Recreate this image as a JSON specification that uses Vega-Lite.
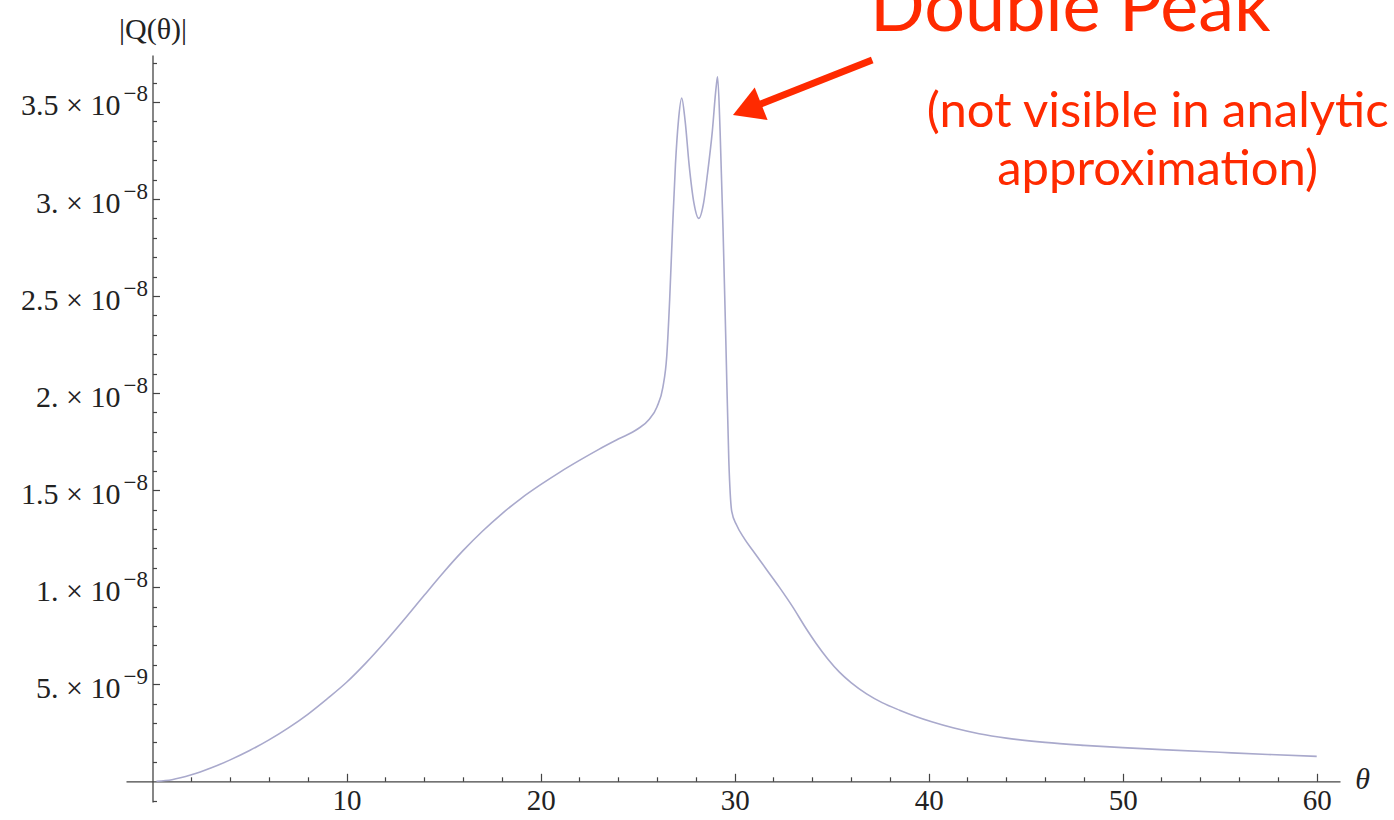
{
  "$schema": "https://vega.github.io/schema/vega-lite/v6.json",
  "width": 1214,
  "height": 747,
  "autosize": "none",
  "padding": {"left": 126, "top": 55, "right": 54, "bottom": 18},
  "background": "white",
  "config": {"view": {"stroke": null}},
  "datasets": {
    "curve": [
      {"theta": 0.2, "Q": 0},
      {"theta": 1, "Q": 8e-11},
      {"theta": 2, "Q": 3.3e-10},
      {"theta": 3, "Q": 6.8e-10},
      {"theta": 4, "Q": 1.1e-9},
      {"theta": 5, "Q": 1.58e-9},
      {"theta": 6, "Q": 2.13e-9},
      {"theta": 7, "Q": 2.75e-9},
      {"theta": 8, "Q": 3.45e-9},
      {"theta": 9, "Q": 4.25e-9},
      {"theta": 10, "Q": 5.1e-9},
      {"theta": 11, "Q": 6.1e-9},
      {"theta": 12, "Q": 7.2e-9},
      {"theta": 13, "Q": 8.37e-9},
      {"theta": 14, "Q": 9.58e-9},
      {"theta": 15, "Q": 1.077e-8},
      {"theta": 16, "Q": 1.188e-8},
      {"theta": 17, "Q": 1.288e-8},
      {"theta": 18, "Q": 1.378e-8},
      {"theta": 19, "Q": 1.458e-8},
      {"theta": 20, "Q": 1.528e-8},
      {"theta": 21, "Q": 1.593e-8},
      {"theta": 22, "Q": 1.653e-8},
      {"theta": 23, "Q": 1.71e-8},
      {"theta": 24, "Q": 1.763e-8},
      {"theta": 25, "Q": 1.815e-8},
      {"theta": 25.6, "Q": 1.865e-8},
      {"theta": 26.0, "Q": 1.93e-8},
      {"theta": 26.3, "Q": 2.03e-8},
      {"theta": 26.5, "Q": 2.19e-8},
      {"theta": 26.65, "Q": 2.48e-8},
      {"theta": 26.8, "Q": 2.85e-8},
      {"theta": 26.95, "Q": 3.18e-8},
      {"theta": 27.1, "Q": 3.4e-8},
      {"theta": 27.27, "Q": 3.52e-8},
      {"theta": 27.45, "Q": 3.4e-8},
      {"theta": 27.65, "Q": 3.18e-8},
      {"theta": 27.9, "Q": 2.98e-8},
      {"theta": 28.15, "Q": 2.9e-8},
      {"theta": 28.4, "Q": 2.98e-8},
      {"theta": 28.6, "Q": 3.13e-8},
      {"theta": 28.85, "Q": 3.35e-8},
      {"theta": 29.05, "Q": 3.58e-8},
      {"theta": 29.12, "Q": 3.63e-8},
      {"theta": 29.25, "Q": 3.35e-8},
      {"theta": 29.4, "Q": 2.85e-8},
      {"theta": 29.55, "Q": 2.25e-8},
      {"theta": 29.7, "Q": 1.65e-8},
      {"theta": 29.85, "Q": 1.39e-8},
      {"theta": 30.1, "Q": 1.32e-8},
      {"theta": 30.5, "Q": 1.25e-8},
      {"theta": 31, "Q": 1.18e-8},
      {"theta": 31.65, "Q": 1.09e-8},
      {"theta": 32.3, "Q": 1.0e-8},
      {"theta": 33, "Q": 8.97e-9},
      {"theta": 33.6, "Q": 8.0e-9},
      {"theta": 34.2, "Q": 7.1e-9},
      {"theta": 34.8, "Q": 6.3e-9},
      {"theta": 35.4, "Q": 5.62e-9},
      {"theta": 36, "Q": 5.08e-9},
      {"theta": 36.8, "Q": 4.5e-9},
      {"theta": 37.6, "Q": 4.05e-9},
      {"theta": 38.5, "Q": 3.66e-9},
      {"theta": 39.3, "Q": 3.35e-9},
      {"theta": 40.2, "Q": 3.05e-9},
      {"theta": 41.3, "Q": 2.74e-9},
      {"theta": 42.6, "Q": 2.45e-9},
      {"theta": 44, "Q": 2.22e-9},
      {"theta": 46, "Q": 2.0e-9},
      {"theta": 48, "Q": 1.85e-9},
      {"theta": 50, "Q": 1.73e-9},
      {"theta": 52, "Q": 1.63e-9},
      {"theta": 55, "Q": 1.49e-9},
      {"theta": 57.5, "Q": 1.38e-9},
      {"theta": 60, "Q": 1.28e-9}
    ]
  },
  "layer": [
    {
      "data": {"name": "curve"},
      "mark": {"type": "line", "color": "#a9a9cc", "strokeWidth": 1.6, "interpolate": "monotone", "clip": false},
      "encoding": {
        "x": {
          "field": "theta", "type": "quantitative",
          "scale": {"domain": [-1.37, 61.2], "nice": false, "zero": false},
          "axis": {
            "orient": "bottom", "offset": -20.7, "values": [10, 20, 30, 40, 50, 60],
            "grid": false, "tickSize": -8, "tickColor": "#444444", "tickWidth": 1.2,
            "domainColor": "#444444", "domainWidth": 1.3,
            "labelFont": "Liberation Serif", "labelFontSize": 29, "labelColor": "#222222",
            "labelPadding": 13, "labelFlush": false, "labelOverlap": false,
            "title": "θ", "titleFont": "Liberation Serif", "titleFontStyle": "italic", "titleFontWeight": "normal",
            "titleFontSize": 30, "titleColor": "#222222", "titleX": 1236, "titleY": -2,
            "titleAlign": "center", "titleBaseline": "middle", "titleAngle": 0
          }
        },
        "y": {
          "field": "Q", "type": "quantitative",
          "scale": {"domain": [-1.07e-9, 3.742e-8], "nice": false, "zero": false},
          "axis": {
            "orient": "left", "offset": -26.5,
            "values": [5e-9, 1e-8, 1.5e-8, 2e-8, 2.5e-8, 3e-8, 3.5e-8],
            "labelExpr": "(datum.value < 9e-9 ? '5.' : (round(datum.value*1e9) % 10 == 0 ? format(round(datum.value*1e8), 'd') + '.' : format(datum.value*1e8, '.1f'))) + ' × 10'",
            "grid": false, "tickSize": -7, "tickColor": "#444444", "tickWidth": 1.2,
            "domainColor": "#444444", "domainWidth": 1.3,
            "labelFont": "Liberation Serif", "labelFontSize": 30, "labelColor": "#222222",
            "labelPadding": 39.5, "labelOffset": 4, "labelFlush": false, "labelOverlap": false,
            "title": "|Q(θ)|", "titleFont": "Liberation Serif", "titleFontWeight": "normal",
            "titleFontSize": 30, "titleColor": "#222222", "titleAngle": 0,
            "titleX": 0, "titleY": -17, "titleAlign": "center", "titleBaseline": "alphabetic"
          }
        }
      }
    },
    {
      "data": {"values": [{"label": "arrow"}]},
      "mark": {"type": "rule", "color": "#ff2a00", "strokeWidth": 7, "strokeCap": "butt"},
      "encoding": {
        "x": {
          "datum": 37.09, "type": "quantitative",
          "axis": {
            "orient": "bottom", "offset": -20.7,
            "values": [2, 4, 6, 8, 12, 14, 16, 18, 22, 24, 26, 28, 32, 34, 36, 38, 42, 44, 46, 48, 52, 54, 56, 58],
            "grid": false, "tickSize": -4.5, "tickColor": "#444444", "tickWidth": 1.2,
            "domain": false, "labels": false, "title": null
          }
        },
        "y": {
          "datum": 3.716e-8, "type": "quantitative",
          "axis": {
            "orient": "left", "offset": -26.5,
            "values": [-1e-9, 1e-9, 2e-9, 3e-9, 4e-9, 6e-9, 7e-9, 8e-9, 9e-9, 1.1e-8, 1.2e-8, 1.3e-8, 1.4e-8, 1.6e-8, 1.7e-8, 1.8e-8, 1.9e-8, 2.1e-8, 2.2e-8, 2.3e-8, 2.4e-8, 2.6e-8, 2.7e-8, 2.8e-8, 2.9e-8, 3.1e-8, 3.2e-8, 3.3e-8, 3.4e-8, 3.6e-8, 3.7e-8],
            "grid": false, "tickSize": -4, "tickColor": "#444444", "tickWidth": 1.2,
            "domain": false, "labels": false, "title": null
          }
        },
        "x2": {"datum": 30.64},
        "y2": {"datum": 3.462e-8}
      }
    },
    {
      "data": {"values": [{"label": "arrowhead"}]},
      "mark": {"type": "point", "shape": "triangle-up", "filled": true, "color": "#ff2a00", "opacity": 1, "size": 1225, "angle": 248.4},
      "encoding": {
        "x": {"datum": 30.64, "type": "quantitative", "axis": null},
        "y": {
          "datum": 3.462e-8, "type": "quantitative",
          "axis": {
            "orient": "left", "offset": -26.5,
            "values": [5e-9, 1e-8, 1.5e-8, 2e-8, 2.5e-8, 3e-8, 3.5e-8],
            "labelExpr": "datum.value < 9e-9 ? '−9' : '−8'",
            "grid": false, "ticks": false, "domain": false, "title": null,
            "labelFont": "Liberation Serif", "labelFontSize": 23, "labelColor": "#222222",
            "labelPadding": 5, "labelOffset": -8, "labelFlush": false, "labelOverlap": false
          }
        }
      }
    },
    {
      "data": {"values": [{"label": "Double Peak"}]},
      "mark": {"type": "text", "font": "Lato", "fontSize": 72, "color": "#ff2a00", "align": "center", "baseline": "alphabetic"},
      "encoding": {
        "x": {"datum": 47.3, "type": "quantitative", "axis": null},
        "y": {"datum": 3.866e-8, "type": "quantitative", "axis": null},
        "text": {"field": "label"}
      }
    },
    {
      "data": {"values": [{"label": "(not visible in analytic"}]},
      "mark": {"type": "text", "font": "Lato", "fontSize": 49, "color": "#ff2a00", "align": "center", "baseline": "alphabetic"},
      "encoding": {
        "x": {"datum": 51.8, "type": "quantitative", "axis": null},
        "y": {"datum": 3.37e-8, "type": "quantitative", "axis": null},
        "text": {"field": "label"}
      }
    },
    {
      "data": {"values": [{"label": "approximation)"}]},
      "mark": {"type": "text", "font": "Lato", "fontSize": 49, "color": "#ff2a00", "align": "center", "baseline": "alphabetic"},
      "encoding": {
        "x": {"datum": 51.8, "type": "quantitative", "axis": null},
        "y": {"datum": 3.07e-8, "type": "quantitative", "axis": null},
        "text": {"field": "label"}
      }
    }
  ],
  "resolve": {"axis": {"x": "independent", "y": "independent"}}
}
